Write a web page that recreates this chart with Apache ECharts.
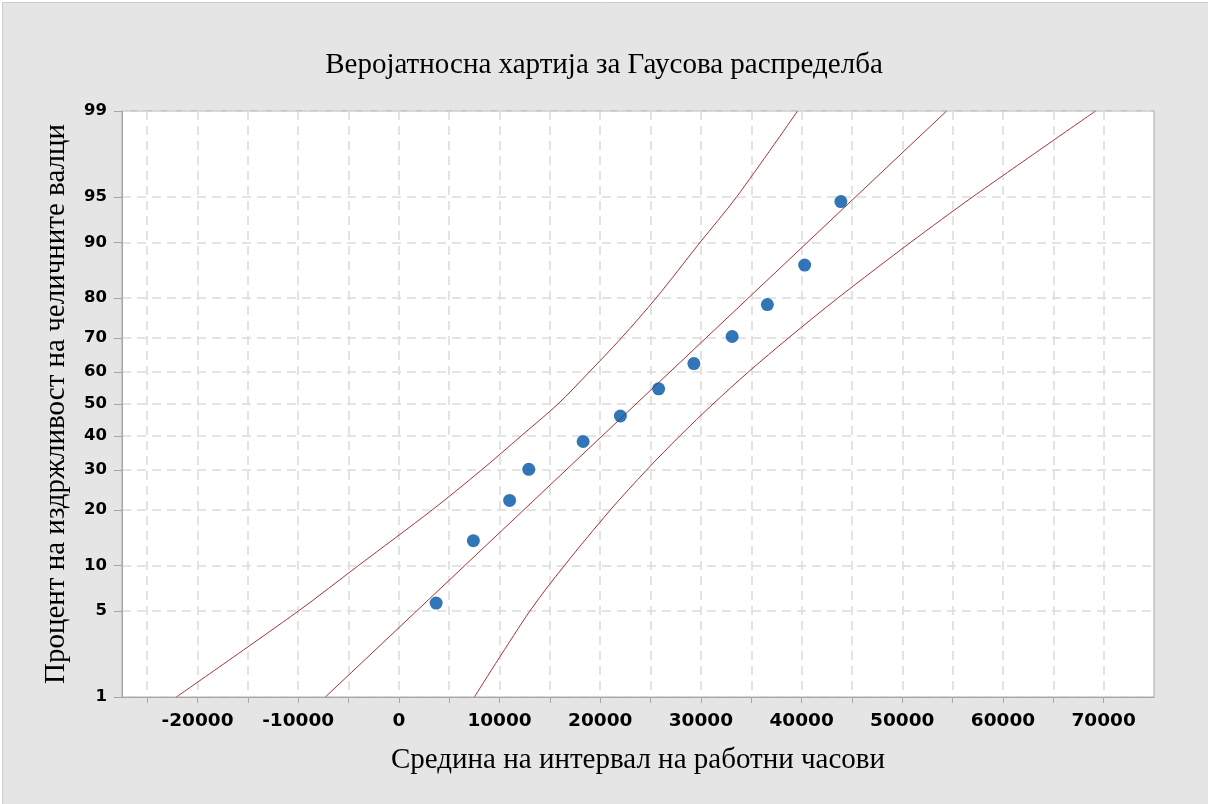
<!DOCTYPE html>
<html>
<head>
<meta charset="utf-8">
<title>Веројатносна хартија</title>
<script src="https://cdn.jsdelivr.net/npm/echarts@6/dist/echarts.min.js"></script>
<style>
  html, body { margin: 0; padding: 0; background: #ffffff; }
  #chart { position: absolute; left: 0; top: 0; width: 1208px; height: 804px; }
</style>
</head>
<body>
<div id="chart"></div>
<script>
// Interval midpoints (working hours) and cumulative survival percentages
const hoursMid    = [3700, 7400, 11000, 12900, 18300, 22000, 25800, 29300, 33100, 36600, 40300, 43900];
const survivalPct = [5.7, 13.9, 22.2, 30.2, 38.3, 46.2, 54.8, 62.6, 70.4, 78.5, 86.5, 94.6];

// Fitted normal line, given by its ends at 1 % and 99 %
const fitPct   = [1, 99];
const fitHours = [-7300, 54400];

// Confidence band: hours at which each band edge meets the percentage levels
const bandPct        = [1, 5, 10, 20, 30, 40, 50, 60, 70, 80, 90, 95, 99];
const bandLeftHours  = [-22100, -10000, -4000, 3300, 8200, 12150, 15800, 18900, 22100, 25550, 29900, 33550, 39600];
const bandRightHours = [7500, 13000, 16450, 21000, 24600, 27900, 31200, 34700, 38700, 43600, 50800, 57000, 69200];

// Axis ticks
const xTickValues  = [-25000, -20000, -15000, -10000, -5000, 0, 5000, 10000, 15000, 20000, 25000, 30000, 35000, 40000, 45000, 50000, 55000, 60000, 65000, 70000];
const xLabelValues = [-20000, -10000, 0, 10000, 20000, 30000, 40000, 50000, 60000, 70000];
const yTickPct     = [1, 5, 10, 20, 30, 40, 50, 60, 70, 80, 90, 95, 99];

// Inverse of the standard normal CDF (Acklam's rational approximation),
// used to place percentages on the probability scale.
function normInv(p) {
  const a = [-3.969683028665376e+01, 2.209460984245205e+02, -2.759285104469687e+02, 1.383577518672690e+02, -3.066479806614716e+01, 2.506628277459239e+00];
  const b = [-5.447609879822406e+01, 1.615858368580409e+02, -1.556989798598866e+02, 6.680131188771972e+01, -1.328068155288572e+01];
  const c = [-7.784894002430293e-03, -3.223964580411365e-01, -2.400758277161838e+00, -2.549732539343734e+00, 4.374664141464968e+00, 2.938163982698783e+00];
  const d = [7.784695709041462e-03, 3.224671290700398e-01, 2.445134137142996e+00, 3.754408661907416e+00];
  const pl = 0.02425, ph = 1 - pl;
  let q, r;
  if (p < pl) {
    q = Math.sqrt(-2 * Math.log(p));
    return (((((c[0]*q+c[1])*q+c[2])*q+c[3])*q+c[4])*q+c[5]) / ((((d[0]*q+d[1])*q+d[2])*q+d[3])*q+1);
  }
  if (p <= ph) {
    q = p - 0.5; r = q * q;
    return (((((a[0]*r+a[1])*r+a[2])*r+a[3])*r+a[4])*r+a[5])*q / (((((b[0]*r+b[1])*r+b[2])*r+b[3])*r+b[4])*r+1);
  }
  q = Math.sqrt(-2 * Math.log(1 - p));
  return -(((((c[0]*q+c[1])*q+c[2])*q+c[3])*q+c[4])*q+c[5]) / ((((d[0]*q+d[1])*q+d[2])*q+d[3])*q+1);
}
const zOf = pct => normInv(pct / 100);

const yTickZ = yTickPct.map(zOf);
const labelForZ = v => {
  let best = 0;
  for (let i = 1; i < yTickZ.length; i++) {
    if (Math.abs(yTickZ[i] - v) < Math.abs(yTickZ[best] - v)) best = i;
  }
  return String(yTickPct[best]);
};

const pairs = (xs, ps) => xs.map((x, i) => [x, zOf(ps[i])]);

const gridColor = '#dcdcdc';
const axisColor = '#a6a6a6';
const curveColor = '#a83232';
const serif = 'Liberation Serif';
const sans = 'DejaVu Sans';

const chart = echarts.init(document.getElementById('chart'), null, { renderer: 'canvas' });
chart.setOption({
  backgroundColor: '#ffffff',
  animation: false,
  graphic: [{
    type: 'rect',
    silent: true,
    z: -10,
    shape: { x: 2.5, y: 2.5, width: 1206, height: 802 },
    style: { fill: '#e5e5e5', stroke: '#cccccc', lineWidth: 1 }
  }],
  title: {
    text: 'Веројатносна хартија за Гаусова распределба',
    left: 'center',
    top: 46,
    textStyle: { fontFamily: serif, fontSize: 29, fontWeight: 'normal', color: '#000000' }
  },
  grid: { left: 122, right: 54, top: 111, bottom: 107, show: true, backgroundColor: '#ffffff', borderColor: axisColor, borderWidth: 1 },
  xAxis: {
    type: 'value',
    min: -27500,
    max: 75000,
    name: 'Средина на интервал на работни часови',
    nameLocation: 'middle',
    nameGap: 49,
    nameTextStyle: { fontFamily: serif, fontSize: 29, color: '#000000' },
    axisLine: { show: true, onZero: false, lineStyle: { color: axisColor, width: 1 } },
    axisTick: { show: true, length: 6, lineStyle: { color: axisColor }, customValues: xTickValues },
    axisLabel: {
      customValues: xLabelValues,
      formatter: v => String(v),
      margin: 15,
      fontFamily: sans,
      fontWeight: 'bold',
      fontSize: 18.5,
      color: '#000000'
    },
    splitLine: { show: true, lineStyle: { color: gridColor, width: 1.6, type: [9, 6] } }
  },
  yAxis: {
    type: 'value',
    min: zOf(1),
    max: zOf(99),
    name: 'Процент на издржливост на челичните валци',
    nameLocation: 'middle',
    nameGap: 51,
    nameTextStyle: { fontFamily: serif, fontSize: 29, color: '#000000' },
    axisLine: { show: true, onZero: false, lineStyle: { color: axisColor, width: 1 } },
    axisTick: { show: true, length: 8, lineStyle: { color: axisColor }, customValues: yTickZ },
    axisLabel: {
      customValues: yTickZ,
      formatter: labelForZ,
      margin: 15,
      fontFamily: sans,
      fontWeight: 'bold',
      fontSize: 16.5,
      color: '#000000'
    },
    splitLine: { show: true, lineStyle: { color: gridColor, width: 1.6, type: [9, 6] } }
  },
  series: [
    {
      name: 'Лева граница',
      type: 'line',
      data: pairs(bandLeftHours, bandPct),
      smooth: 0.3,
      symbol: 'none',
      lineStyle: { color: curveColor, width: 1 },
      z: 3
    },
    {
      name: 'Права',
      type: 'line',
      data: pairs(fitHours, fitPct),
      symbol: 'none',
      lineStyle: { color: curveColor, width: 1 },
      z: 3
    },
    {
      name: 'Десна граница',
      type: 'line',
      data: pairs(bandRightHours, bandPct),
      smooth: 0.3,
      symbol: 'none',
      lineStyle: { color: curveColor, width: 1 },
      z: 3
    },
    {
      name: 'Податоци',
      type: 'scatter',
      data: pairs(hoursMid, survivalPct),
      symbol: 'circle',
      symbolSize: 13,
      itemStyle: { color: '#0054a6' },
      z: 5
    }
  ]
});
</script>
</body>
</html>
